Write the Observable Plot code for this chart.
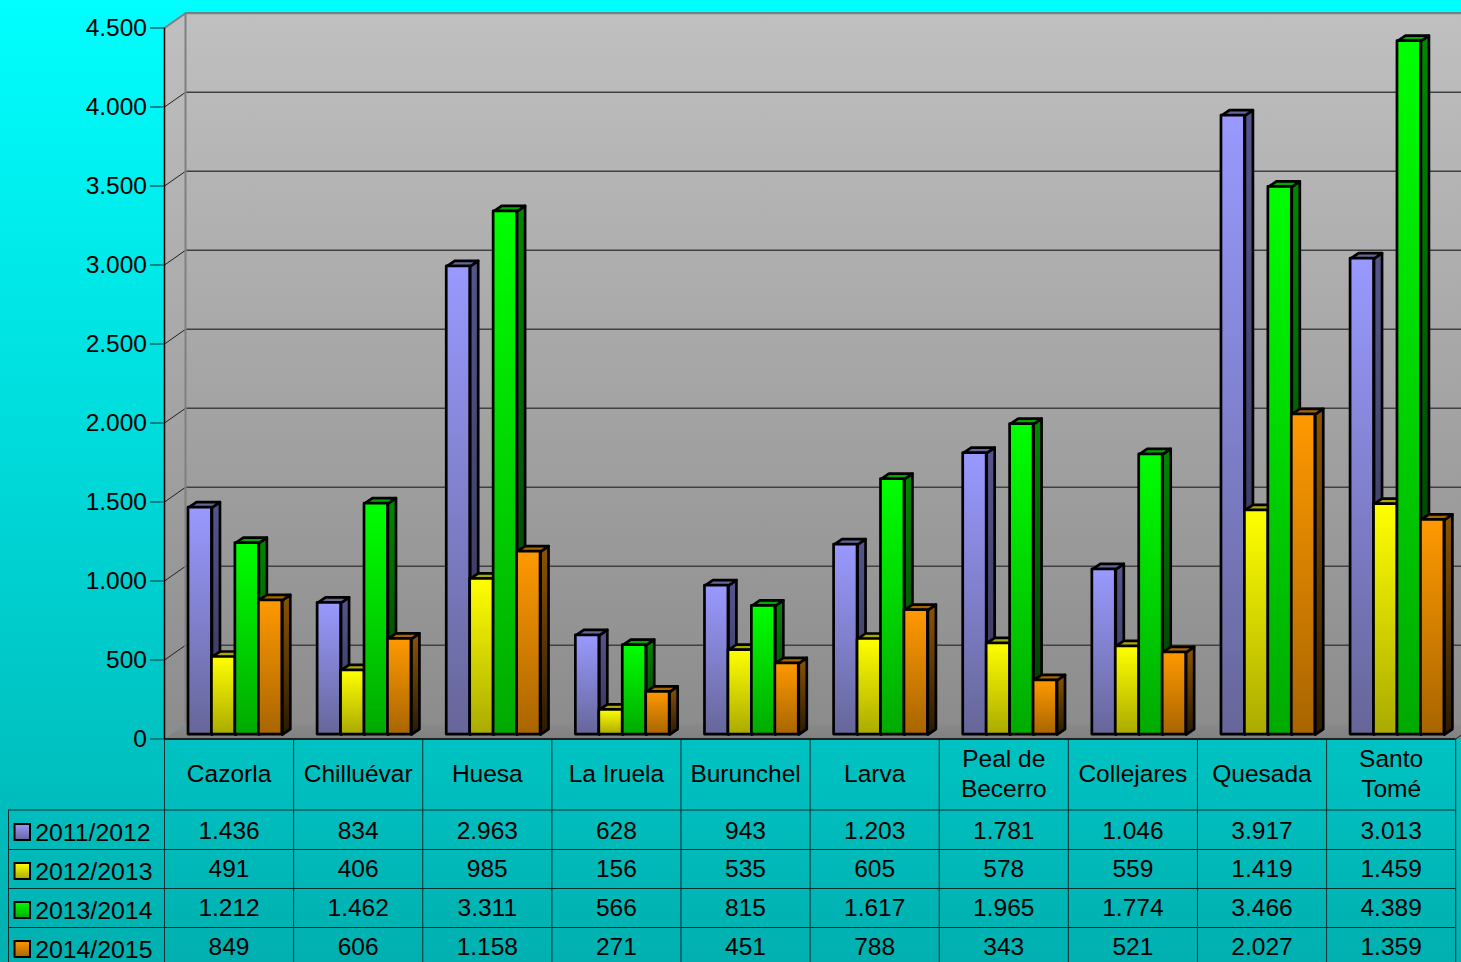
<!DOCTYPE html>
<html><head><meta charset="utf-8">
<script src="https://cdn.jsdelivr.net/npm/d3@7"></script>
<script src="https://cdn.jsdelivr.net/npm/@observablehq/plot@0.6"></script>
<style>html,body{margin:0;padding:0;overflow:hidden;background:#00c8c8}</style>
</head><body><div id="chart"></div>
<script>
const categories = ["Cazorla","Chilluévar","Huesa","La Iruela","Burunchel","Larva","Peal de\nBecerro","Collejares","Quesada","Santo\nTomé"];
const seasons = ["2011/2012","2012/2013","2013/2014","2014/2015"];
const v2011 = [1436,834,2963,628,943,1203,1781,1046,3917,3013];
const v2012 = [491,406,985,156,535,605,578,559,1419,1459];
const v2013 = [1212,1462,3311,566,815,1617,1965,1774,3466,4389];
const v2014 = [849,606,1158,271,451,788,343,521,2027,1359];
const yTicks = [0,500,1000,1500,2000,2500,3000,3500,4000,4500];
const palette = [
 {front:["#9999ff","#666699"],side:["#55558c","#333355"],top:"#666699"},
 {front:["#ffff00","#aaaa00"],side:["#999900","#333300"],top:"#aaaa00"},
 {front:["#00ff00","#00aa00"],side:["#008800","#003300"],top:"#00aa00"},
 {front:["#ff9900","#a86500"],side:["#8c5400","#2a1a00"],top:"#a86500"}
];
const series = [v2011,v2012,v2013,v2014];

const W=1461,H=962;
const pxPerCat=129.12, x0=164, pxPerVal=0.158, y0=738.5;
const X=px=>(px-x0)/pxPerCat;              // pixel → category units
const Yu=px=>(y0-px)/pxPerVal;             // pixel → value units
const dX=px=>px/pxPerCat, dY=px=>px/pxPerVal;
const wallDx=dX(21), wallDy=dY(14.7);
const barLift=dY(4.4), barW=dX(23.45), barOff=dX(24), depthX=dX(8), depthY=dY(5.5);
const fmt=d3.formatLocale({decimal:",",thousands:".",grouping:[3],currency:["","€"]}).format(",d");

const gradDefs=()=>{
  const defs=d3.create("svg:defs");
  const add=(id,a,b)=>{const g=defs.append("linearGradient").attr("id",id).attr("x1",0).attr("y1",0).attr("x2",0).attr("y2",1);
    g.append("stop").attr("offset",0).attr("stop-color",a);g.append("stop").attr("offset",1).attr("stop-color",b);};
  add("wall","#c0c0c0","#8c8c8c");
  add("floor","#898989","#808080");
  palette.forEach((p,i)=>{add("f"+i,...p.front);add("s"+i,...p.side);});
  return defs.node();
};

const marks=[gradDefs];
// walls (the floor is painted over the lower edge of the back wall)
marks.push(Plot.rect([0],{x1:wallDx,x2:11,y1:wallDy-dY(2),y2:4500+wallDy,fill:"url(#wall)"}));
marks.push(Plot.line([[0,0],[wallDx,wallDy],[wallDx,4500+wallDy],[0,4500],[0,0]],{fill:"url(#wall)",stroke:"none"}));
marks.push(Plot.line([[0,0],[wallDx,wallDy],[11,wallDy],[10,0],[0,0]],{fill:"url(#floor)",stroke:"none"}));
// grid on the walls
const gridTicks=yTicks.slice(1);
marks.push(Plot.ruleY(gridTicks,{y:d=>d+wallDy,x1:wallDx,x2:11,stroke:"#404040",strokeWidth:1.4}));
marks.push(Plot.link(gridTicks,{x1:0,y1:d=>d,x2:wallDx,y2:d=>d+wallDy,stroke:"#202020",strokeWidth:1}));
// wall frame
marks.push(Plot.line([[0,4500],[wallDx,4500+wallDy],[11,4500+wallDy]],{stroke:"#808080",strokeWidth:2}));
marks.push(Plot.ruleX([wallDx],{y1:wallDy,y2:4500+wallDy,stroke:"#808080",strokeWidth:2}));
// bars, painted left to right
series.forEach((vals,s)=>{
  const rows=vals.map((v,i)=>({v,l:i+barOff+s*barW,r:i+barOff+(s+1)*barW}));
  const side=rows.flatMap((d,i)=>[[d.r,barLift],[d.r+depthX,barLift+depthY],[d.r+depthX,d.v+barLift+depthY],[d.r,d.v+barLift],[d.r,barLift]].map(p=>({x:p[0],y:p[1],i})));
  const top=rows.flatMap((d,i)=>[[d.l,d.v+barLift],[d.l+depthX,d.v+barLift+depthY],[d.r+depthX,d.v+barLift+depthY],[d.r,d.v+barLift],[d.l,d.v+barLift]].map(p=>({x:p[0],y:p[1],i})));
  const faceStyle={stroke:"#000",strokeWidth:2.7,strokeLinejoin:"round"};
  marks.push(Plot.line(side,{x:"x",y:"y",z:"i",fill:"url(#s"+s+")",...faceStyle}));
  marks.push(Plot.line(top,{x:"x",y:"y",z:"i",fill:palette[s].top,...faceStyle}));
  marks.push(Plot.rect(rows,{x1:"l",x2:"r",y1:()=>barLift,y2:d=>d.v+barLift,fill:"url(#f"+s+")",...faceStyle}));
});
// table rules
const tblColor="#003030";
const colEdges=d3.range(0,11);
const rowLines=[809.5,849,888,927];
marks.push(Plot.ruleY([0],{x1:0,x2:10,stroke:"#000",strokeWidth:1.6}));
marks.push(Plot.ruleX(colEdges,{x:d=>d,y1:0,y2:Yu(962),stroke:tblColor,strokeWidth:1}));
marks.push(Plot.ruleX([X(8)],{y1:Yu(810),y2:Yu(962),stroke:tblColor,strokeWidth:1}));
marks.push(Plot.ruleY(rowLines,{y:d=>Yu(d),x1:X(8),x2:10,stroke:tblColor,strokeWidth:1}));
marks.push(Plot.ruleX([0],{y1:0,y2:4500,stroke:"#000",strokeWidth:1.5}));
marks.push(Plot.link([0],{x1:10,y1:0,x2:10+wallDx,y2:wallDy,stroke:tblColor,strokeWidth:1}));
// y axis
marks.push(Plot.axisY(yTicks,{x:0,anchor:"left",tickSize:14,tickPadding:3.5,tickFormat:fmt,fontSize:24.5,stroke:"#006a6a",strokeWidth:1.5,fill:"#000",label:null,fontVariant:"normal"}));
// category labels
marks.push(Plot.text(categories,{x:(d,i)=>i+0.5,y:()=>Yu(771.8),text:d=>d,fontSize:24.5,lineHeight:1.22,fill:"#000"}));
// values
const rowY=[831,869,908,947], labelY=[833,872,911,949.5], swatchY=[824,863,902,941];
series.forEach((vals,s)=>{
  marks.push(Plot.text(vals,{x:(d,i)=>i+0.5,y:()=>Yu(rowY[s]),text:d=>fmt(d),fontSize:24.5,fill:"#000"}));
});
marks.push(Plot.text(seasons,{x:()=>X(34.7),y:(d,i)=>Yu(labelY[i]),text:d=>d,textAnchor:"start",fontSize:24.8,fill:"#000"}));
seasons.forEach((d,s)=>{
  marks.push(Plot.rect([d],{x1:()=>X(14.5),x2:()=>X(30),y1:()=>Yu(swatchY[s]),y2:()=>Yu(swatchY[s]+16),fill:"url(#f"+s+")",stroke:"#000",strokeWidth:2}));
});

const chart=Plot.plot({
  width:W,height:H,margin:0,
  x:{type:"linear",domain:[X(0),X(W)],range:[0,W],axis:null},
  y:{type:"linear",domain:[Yu(H),Yu(0)],range:[H,0],axis:null},
  style:{fontFamily:"'Liberation Sans',Arial,sans-serif",background:"linear-gradient(to bottom,#00ffff 0%,#00b0b0 100%)",display:"block"},
  marks
});
document.getElementById("chart").append(chart);
</script></body></html>
